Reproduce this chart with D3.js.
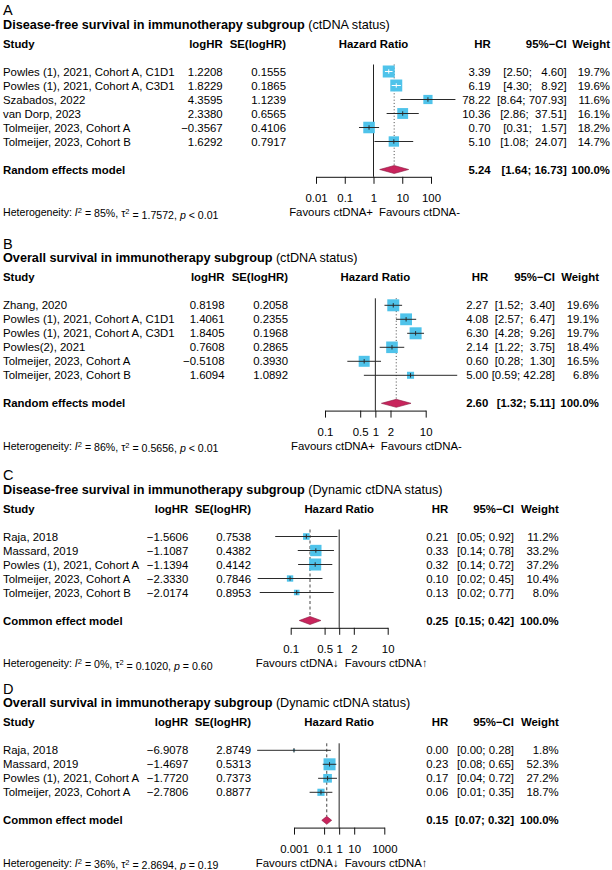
<!DOCTYPE html>
<html><head><meta charset="utf-8">
<script src="https://cdn.jsdelivr.net/npm/d3@7"></script>
<style>
body{margin:0;background:#fff}
svg{display:block}
text{font-family:"Liberation Sans",Arial,Helvetica,sans-serif;fill:#000}
</style>
</head><body>
<svg id="chart" width="612" height="870"></svg>
<script>
// ---------- Panel A: DFS, ctDNA status ----------
const studiesA = ["Powles (1), 2021, Cohort A, C1D1","Powles (1), 2021, Cohort A, C3D1","Szabados, 2022","van Dorp, 2023","Tolmeijer, 2023, Cohort A","Tolmeijer, 2023, Cohort B"];
const logHRA = [1.2208, 1.8229, 4.3595, 2.3380, -0.3567, 1.6292];
const seA = [0.1555, 0.1865, 1.1239, 0.6565, 0.4106, 0.7917];
const hrA = [3.39, 6.19, 78.22, 10.36, 0.70, 5.10];
const loA = [2.50, 4.30, 8.64, 2.86, 0.31, 1.08];
const hiA = [4.60, 8.92, 707.93, 37.51, 1.57, 24.07];
const weightA = [19.7, 19.6, 11.6, 16.1, 18.2, 14.7];
const modelA = [5.24, 1.64, 16.73];
const ticksA = [0.01, 0.1, 1, 10, 100];
const tickLabelsA = ["0.01","0.1","1","10","100"];
const hetA = ["85%", "1.7572", "< 0.01"];

// ---------- Panel B: OS, ctDNA status ----------
const studiesB = ["Zhang, 2020","Powles (1), 2021, Cohort A, C1D1","Powles (1), 2021, Cohort A, C3D1","Powles(2), 2021","Tolmeijer, 2023, Cohort A","Tolmeijer, 2023, Cohort B"];
const logHRB = [0.8198, 1.4061, 1.8405, 0.7608, -0.5108, 1.6094];
const seB = [0.2058, 0.2355, 0.1968, 0.2865, 0.3930, 1.0892];
const hrB = [2.27, 4.08, 6.30, 2.14, 0.60, 5.00];
const loB = [1.52, 2.57, 4.28, 1.22, 0.28, 0.59];
const hiB = [3.40, 6.47, 9.26, 3.75, 1.30, 42.28];
const weightB = [19.6, 19.1, 19.7, 18.4, 16.5, 6.8];
const modelB = [2.60, 1.32, 5.11];
const ticksB = [0.1, 0.5, 1, 2, 10];
const tickLabelsB = ["0.1","0.5","1","2","10"];
const hetB = ["86%", "0.5656", "< 0.01"];

// ---------- Panel C: DFS, dynamic ctDNA ----------
const studiesC = ["Raja, 2018","Massard, 2019","Powles (1), 2021, Cohort A","Tolmeijer, 2023, Cohort A","Tolmeijer, 2023, Cohort B"];
const logHRC = [-1.5606, -1.1087, -1.1394, -2.3330, -2.0174];
const seC = [0.7538, 0.4382, 0.4142, 0.7846, 0.8953];
const hrC = [0.21, 0.33, 0.32, 0.10, 0.13];
const loC = [0.05, 0.14, 0.14, 0.02, 0.02];
const hiC = [0.92, 0.78, 0.72, 0.45, 0.77];
const weightC = [11.2, 33.2, 37.2, 10.4, 8.0];
const modelC = [0.25, 0.15, 0.42];
const ticksC = [0.1, 0.5, 1, 2, 10];
const tickLabelsC = ["0.1","0.5","1","2","10"];
const hetC = ["0%", "0.1020", "= 0.60"];

// ---------- Panel D: OS, dynamic ctDNA ----------
const studiesD = ["Raja, 2018","Massard, 2019","Powles (1), 2021, Cohort A","Tolmeijer, 2023, Cohort A"];
const logHRD = [-6.9078, -1.4697, -1.7720, -2.7806];
const seD = [2.8749, 0.5313, 0.7373, 0.8877];
const hrD = [0.00, 0.23, 0.17, 0.06];
const loD = [0.00, 0.08, 0.04, 0.01];
const hiD = [0.28, 0.65, 0.72, 0.35];
const weightD = [1.8, 52.3, 27.2, 18.7];
const modelD = [0.15, 0.07, 0.32];
const ticksD = [0.001, 0.1, 1, 10, 1000];
const tickLabelsD = ["0.001","0.1","1","10","1000"];
const hetD = ["36%", "2.8694", "= 0.19"];

const titlesBold = ["Disease-free survival in immunotherapy subgroup","Overall survival in immunotherapy subgroup","Disease-free survival in immunotherapy subgroup","Overall survival in immunotherapy subgroup"];
const titlesNorm = [" (ctDNA status)"," (ctDNA status)"," (Dynamic ctDNA status)"," (Dynamic ctDNA status)"];
const modelNames = ["Random effects model","Random effects model","Common effect model","Common effect model"];
const favoursLeft = ["Favours ctDNA+","Favours ctDNA+","Favours ctDNA\u2193","Favours ctDNA\u2193"];
const favoursRight = ["Favours ctDNA-","Favours ctDNA-","Favours ctDNA\u2191","Favours ctDNA\u2191"];
const letters = ["A","B","C","D"];

// ---------- layout (positions only) ----------
const layouts = [
  {row1:71.5, range:[316,431], cLog:222.7, cSE:286, cHR:490.7, cCI:566.7, cW:610, dash:"1,2.2"},
  {row1:305.3, range:[325,425.7], cLog:224.5, cSE:288, cHR:488.3, cCI:555, cW:599, dash:"1,2.2"},
  {row1:536.5, range:[290.7,387.7], cLog:188.3, cSE:251, cHR:448.3, cCI:514, cW:558.7, dash:"3,2.5"},
  {row1:750.3, range:[294,384.3], cLog:188.3, cSE:251, cHR:448.3, cCI:514, cW:558.7, dash:"3,2.5"}
];

const panels = [
  {studies:studiesA, logHR:logHRA, se:seA, hr:hrA, lo:loA, hi:hiA, w:weightA, model:modelA, ticks:ticksA, tickLabels:tickLabelsA, het:hetA},
  {studies:studiesB, logHR:logHRB, se:seB, hr:hrB, lo:loB, hi:hiB, w:weightB, model:modelB, ticks:ticksB, tickLabels:tickLabelsB, het:hetB},
  {studies:studiesC, logHR:logHRC, se:seC, hr:hrC, lo:loC, hi:hiC, w:weightC, model:modelC, ticks:ticksC, tickLabels:tickLabelsC, het:hetC},
  {studies:studiesD, logHR:logHRD, se:seD, hr:hrD, lo:loD, hi:hiD, w:weightD, model:modelD, ticks:ticksD, tickLabels:tickLabelsD, het:hetD}
];

const svg = d3.select("#chart");
const FS = 11.4, ROW = 14, MAXSIDE = 12;
const NB = "\u00A0";
const fmtSigned = (v, k) => (v < 0 ? "\u2212" : "") + Math.abs(v).toFixed(k);
const padL = (s, n) => NB.repeat(Math.max(0, n - s.length)) + s;
function ciStrings(lo, hi) {
  const ls = lo.map(v => v.toFixed(2)), hs = hi.map(v => v.toFixed(2));
  const ml = d3.max(ls, s => s.length), mh = d3.max(hs, s => s.length);
  return ls.map((s, i) => "[" + padL(s, ml) + ";" + NB + padL(hs[i], mh) + "]");
}

panels.forEach((p, pi) => {
  const L = layouts[pi];
  const g = svg.append("g");
  const n = p.studies.length;
  const y = i => L.row1 + ROW * i;
  const yModel = L.row1 + ROW * (n + 1);
  const yAxis = yModel + 7.3;
  const x = d3.scaleLog().domain([p.ticks[0], p.ticks[p.ticks.length - 1]]).range(L.range);
  const xc = (L.range[0] + L.range[1]) / 2;

  // letter + title
  g.append("text").attr("x", 3).attr("y", L.row1 - 62).attr("dy", "0.36em")
    .style("font-size", "14.5px").text(letters[pi]);
  const t = g.append("text").attr("x", 3).attr("y", L.row1 - 47.5).attr("dy", "0.36em").style("font-size", "12.66px");
  t.append("tspan").style("font-weight", "bold").text(titlesBold[pi]);
  t.append("tspan").text(titlesNorm[pi]);

  // header
  const hy = L.row1 - 28;
  const hdr = (txt, xx, anchor) => g.append("text").attr("x", xx).attr("y", hy).attr("dy", "0.36em")
    .attr("text-anchor", anchor).style("font-size", FS + "px").style("font-weight", "bold").text(txt);
  hdr("Study", 3, "start");
  hdr("logHR", L.cLog, "end");
  hdr("SE(logHR)", L.cSE, "end");
  hdr("Hazard Ratio", xc, "middle");
  hdr("HR", L.cHR, "end");
  hdr("95%\u2212CI", L.cCI, "end");
  hdr("Weight", L.cW, "end");

  // rows text
  const ci = ciStrings(p.lo, p.hi);
  const cell = (txt, xx, yy, anchor, bold) => g.append("text").attr("x", xx).attr("y", yy).attr("dy", "0.36em")
    .attr("text-anchor", anchor).style("font-size", FS + "px").style("font-weight", bold ? "bold" : "normal").text(txt);
  p.studies.forEach((s, i) => {
    cell(s, 3, y(i), "start");
    cell(fmtSigned(p.logHR[i], 4), L.cLog, y(i), "end");
    cell(p.se[i].toFixed(4), L.cSE, y(i), "end");
    cell(p.hr[i].toFixed(2), L.cHR, y(i), "end");
    cell(ci[i], L.cCI, y(i), "end");
    cell(p.w[i].toFixed(1) + "%", L.cW, y(i), "end");
  });
  cell(modelNames[pi], 3, yModel, "start", true);
  cell(p.model[0].toFixed(2), L.cHR, yModel, "end", true);
  cell(ciStrings([p.model[1]], [p.model[2]])[0], L.cCI, yModel, "end", true);
  cell("100.0%", L.cW, yModel, "end", true);

  // reference line at 1
  g.append("line").attr("x1", x(1)).attr("x2", x(1)).attr("y1", L.row1 - 7).attr("y2", yAxis)
    .attr("stroke", "#222").attr("stroke-width", 1);
  // pooled estimate line
  g.append("line").attr("x1", x(p.model[0])).attr("x2", x(p.model[0])).attr("y1", L.row1 - 7).attr("y2", yModel - 4)
    .attr("stroke", "#444").attr("stroke-width", 1).attr("stroke-dasharray", L.dash);

  // squares and CIs
  const maxW = d3.max(p.w);
  p.studies.forEach((s, i) => {
    const est = Math.exp(p.logHR[i]);
    const l = Math.exp(p.logHR[i] - 1.96 * p.se[i]);
    const u = Math.exp(p.logHR[i] + 1.96 * p.se[i]);
    const side = MAXSIDE * Math.sqrt(p.w[i] / maxW);
    const cx = x(est), cy = y(i);
    g.append("rect").attr("x", cx - side / 2).attr("y", cy - side / 2).attr("width", side).attr("height", side)
      .attr("fill", "#4fc3ea");
    const inside = x(l) >= cx - side / 2 && x(u) <= cx + side / 2;
    const col = inside ? "#fff" : "#2a2a2a";
    g.append("line").attr("x1", x(l)).attr("x2", x(u)).attr("y1", cy).attr("y2", cy)
      .attr("stroke", col).attr("stroke-width", 1);
    g.append("line").attr("x1", cx).attr("x2", cx).attr("y1", cy - 2.2).attr("y2", cy + 2.2)
      .attr("stroke", col).attr("stroke-width", 1);
  });

  // diamond
  const m = p.model;
  g.append("polygon")
    .attr("points", [[x(m[1]), yModel], [x(m[0]), yModel - 4], [x(m[2]), yModel], [x(m[0]), yModel + 4]].map(d => d.join(",")).join(" "))
    .attr("fill", "#c8245c").attr("stroke", "#8a1a40").attr("stroke-width", 0.6);

  // axis
  const ax = d3.axisBottom(x).tickValues(p.ticks).tickFormat((d, i) => p.tickLabels[i])
    .tickSize(7).tickSizeOuter(0).tickPadding(10);
  const ag = g.append("g").attr("transform", `translate(0,${yAxis})`).call(ax);
  ag.select(".domain").attr("stroke", "#111").attr("stroke-width", 1);
  ag.selectAll(".tick line").attr("stroke", "#111").attr("stroke-width", 1);
  ag.selectAll(".tick text").style("font-size", FS + "px").style("font-family", '"Liberation Sans",Arial,sans-serif').attr("fill", "#000");

  // favours labels
  const fy = yAxis + 35.5;
  g.append("text").attr("x", x(1) - 0.5).attr("y", fy).attr("dy", "0.36em").attr("text-anchor", "end")
    .style("font-size", FS + "px").text(favoursLeft[pi]);
  g.append("text").attr("x", x(1) + 5.5).attr("y", fy).attr("dy", "0.36em").attr("text-anchor", "start")
    .style("font-size", FS + "px").text(favoursRight[pi]);

  // heterogeneity
  const h = g.append("text").attr("x", 3).attr("y", fy).attr("dy", "0.36em").style("font-size", "10.6px");
  h.append("tspan").text("Heterogeneity: ");
  h.append("tspan").style("font-style", "italic").text("I");
  h.append("tspan").attr("dy", "-0.4em").style("font-size", "7.5px").text("2");
  h.append("tspan").attr("dy", "0.4em").text(" = " + p.het[0] + ", \u03C4");
  h.append("tspan").attr("dy", "-0.4em").style("font-size", "7.5px").text("2");
  h.append("tspan").attr("dy", "0.4em").text(" = " + p.het[1] + ", ");
  h.append("tspan").style("font-style", "italic").text("p");
  h.append("tspan").text(" " + p.het[2]);
});
</script>
</body></html>
